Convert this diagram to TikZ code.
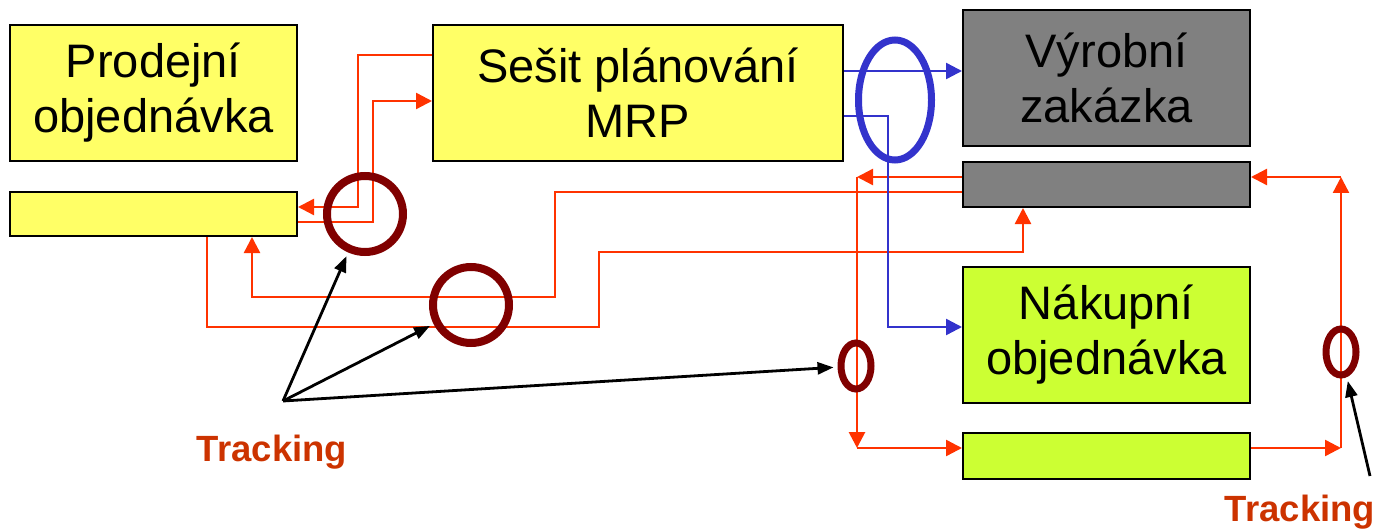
\documentclass[tikz,border=0pt]{standalone}
\usepackage{fontspec}
\setmainfont{Liberation Sans}
\usetikzlibrary{arrows.meta,shapes.geometric}
\definecolor{boxyellow}{HTML}{FFFF66}
\definecolor{boxgray}{HTML}{808080}
\definecolor{boxgreen}{HTML}{CCFF33}
\definecolor{redline}{HTML}{FF3300}
\definecolor{ringred}{HTML}{800000}
\definecolor{blueline}{HTML}{3333CC}
\definecolor{trackc}{HTML}{CC3300}
\begin{document}
\begin{tikzpicture}[x=1pt,y=-1pt,
  box/.style={draw=black,line width=2pt,inner sep=0pt,minimum width=287pt,align=center,
    font=\fontsize{47}{55}\selectfont},
  rline/.style={draw=redline,line width=2.4pt},
  rarrow/.style={rline,-{Triangle[length=16pt,width=16pt]}},
  barrow/.style={draw=blueline,line width=2.4pt,-{Triangle[length=16pt,width=16pt]}},
  karrow/.style={draw=black,line width=2.8pt,-{Triangle[length=16pt,width=12pt]},shorten >=4pt},
  ring/.style={draw=ringred,line width=8pt,circle,minimum size=76pt,inner sep=0pt},
  smallring/.style={draw=ringred,line width=7pt,ellipse,minimum width=30pt,minimum height=46pt,inner sep=0pt},
  track/.style={text=trackc,font=\fontsize{36.5}{40}\selectfont\bfseries}
]
\useasboundingbox (0,0) rectangle (1377,532);

% boxes
\node[box,fill=boxyellow,minimum height=136pt] (prod) at (153.5,93) {Prodejní\\objednávka};
\node[box,fill=boxyellow,minimum height=44pt] (sbar) at (153.5,214) {};
\node[box,fill=boxyellow,minimum width=410pt,minimum height=136pt] (mrp) at (638,93) {Sešit plánování\\MRP};
\node[box,fill=boxgray,minimum height=136pt] (vyr) at (1106.5,78) {Výrobní\\zakázka};
\node[box,fill=boxgray,minimum height=45pt] (gbar) at (1106.5,184.5) {};
\node[box,fill=boxgreen,minimum height=136pt] (nak) at (1106.5,335) {Nákupní\\objednávka};
\node[box,fill=boxgreen,minimum height=46pt] (nbar) at (1106.5,456) {};

% corner coordinates
\coordinate (p1) at (358,55);
\coordinate (p2) at (358,207);
\coordinate (q1) at (373,222);
\coordinate (q2) at (373,101);
\coordinate (r1) at (207,327);
\coordinate (r2) at (599,327);
\coordinate (r3) at (599,252);
\coordinate (r4) at (1023,252);
\coordinate (s1) at (555,192);
\coordinate (s2) at (555,297);
\coordinate (s3) at (252,297);
\coordinate (t1) at (857,177);
\coordinate (t2) at (857,448);
\coordinate (u1) at (1341,448);
\coordinate (u2) at (1341,177);
\coordinate (b1) at (888,116);
\coordinate (b2) at (888,327);

% red connectors
\draw[rarrow] (mrp.west |- p1) -- (p1) -- (p2) -- (sbar.east |- p2);
\draw[rarrow] (sbar.east |- q1) -- (q1) -- (q2) -- (mrp.west |- q2);
\draw[rarrow] (sbar.south -| r1) -- (r1) -- (r2) -- (r3) -- (r4) -- (gbar.south -| r4);
\draw[rarrow] (gbar.west |- s1) -- (s1) -- (s2) -- (s3) -- (sbar.south -| s3);
\draw[rarrow] (gbar.west |- t1) -- (t1);
\draw[rarrow,line width=2.8pt] (t1) -- (t2);
\draw[rarrow] (t2) -- (nbar.west |- t2);
\draw[rarrow] (nbar.east |- u1) -- (u1);
\draw[rarrow] (u1) -- (u2);
\draw[rarrow] (u2) -- (gbar.east |- u2);

% blue connectors
\draw[barrow] (mrp.east |- 0,71) -- (vyr.west |- 0,71);
\draw[barrow] (mrp.east |- b1) -- (b1) -- (b2) -- (nak.west |- b2);

% rings
\node[ring] (c1) at (365,214) {};
\node[ring] (c2) at (471,305) {};
\node[draw=blueline,line width=7pt,ellipse,minimum width=73pt,minimum height=120pt,inner sep=0pt] (bell) at (895,100) {};
\node[smallring] (e1) at (856,366) {};
\node[smallring] (e2) at (1341,352) {};

% tracking labels
\node[track] (tr1) at (272,452) {Tracking};
\node[track] (tr2) at (1300,512) {Tracking};
\coordinate (tk1) at (283,401);
\coordinate (tk2) at (1370,476);
\draw[karrow] (tk1) -- (c1);
\draw[karrow] (tk1) -- (c2);
\draw[karrow] (tk1) -- (e1);
\draw[karrow] (tk2) -- (e2);
\end{tikzpicture}
\end{document}
